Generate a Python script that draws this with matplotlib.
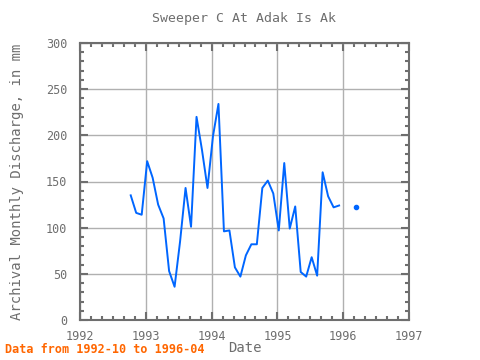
import matplotlib
matplotlib.use("Agg")
import matplotlib.pyplot as plt
import numpy as np
import matplotlib.ticker as ticker

_axis_color = "#6E6E6E"
_line_color = "#0066FF"
_grid_color = "#B0B0B0"
_note_color = "#FF6600"

# monthly discharge, 1992-10 .. 1996-04 (mm), NaN = missing
start_year = 1992
start_month = 10
discharge = [
    135, 116, 114,                                         # 1992 Oct-Dec
    172, 154, 125, 110, 53, 36, 85, 143, 101, 220, 184, 143,  # 1993
    199, 234, 96, 97, 57, 47, 70, 82, 82, 143, 151, 137,      # 1994
    97, 170, 99, 123, 52, 47, 68, 48, 160, 134, 122, 124,     # 1995
    np.nan, np.nan, 122, np.nan,                             # 1996 Jan-Apr
]

title = "Sweeper C At Adak Is Ak"
ylabel = "Archival Monthly Discharge, in mm"
xlabel = "Date"
note = "Data from 1992-10 to 1996-04"
year_ticks = [1992, 1993, 1994, 1995, 1996, 1997]
y_ticks = [0, 50, 100, 150, 200, 250, 300]

plt.rcParams["font.family"] = "DejaVu Sans Mono"

_months = np.arange(len(discharge))
_x = start_year + (start_month - 1 + _months + 0.25) / 12.0
_y = np.array(discharge, dtype=float)

fig = plt.figure(figsize=(4.8, 3.6), dpi=100)
ax = fig.add_axes([80 / 480, 40 / 360, 329 / 480, 277 / 360])

ax.plot(_x, _y, color=_line_color, lw=1.4, zorder=3)
# isolated months (neighbours missing) show as dots
_iso = np.isfinite(_y) & ~np.isfinite(np.r_[np.nan, _y[:-1]]) & ~np.isfinite(np.r_[_y[1:], np.nan])
ax.plot(_x[_iso], _y[_iso], "o", color=_line_color, ms=3, zorder=3)

ax.set_xlim(1992, 1997)
ax.set_ylim(0, 300)
ax.set_xticks(year_ticks)
ax.set_yticks(y_ticks)
ax.xaxis.set_minor_locator(ticker.MultipleLocator(1 / 6))
ax.yaxis.set_minor_locator(ticker.MultipleLocator(10))
ax.xaxis.set_major_formatter(ticker.FuncFormatter(lambda v, _: f"{v:.0f}"))

ax.grid(which="major", color=_grid_color, lw=1.0, zorder=1)
ax.tick_params(which="both", direction="in", top=True, right=True,
               color=_axis_color, width=1.5, labelcolor=_axis_color,
               labelsize=8.5)
ax.tick_params(which="major", length=6)
ax.tick_params(which="minor", length=3)
ax.tick_params(axis="x", which="major", pad=7)
ax.tick_params(axis="y", which="major", pad=9)
for s in ax.spines.values():
    s.set_color(_axis_color)
    s.set_linewidth(1.5)

ax.set_title(title, color=_axis_color, fontsize=9.5, pad=15)
ax.set_ylabel(ylabel, color=_axis_color, fontsize=10, labelpad=16)
ax.set_xlabel(xlabel, color=_axis_color, fontsize=10, labelpad=-1)
fig.text(5 / 480, 4 / 360, note, color=_note_color, fontsize=8.5,
         fontweight="bold", ha="left", va="bottom")

fig.savefig("out.png", dpi=100)
